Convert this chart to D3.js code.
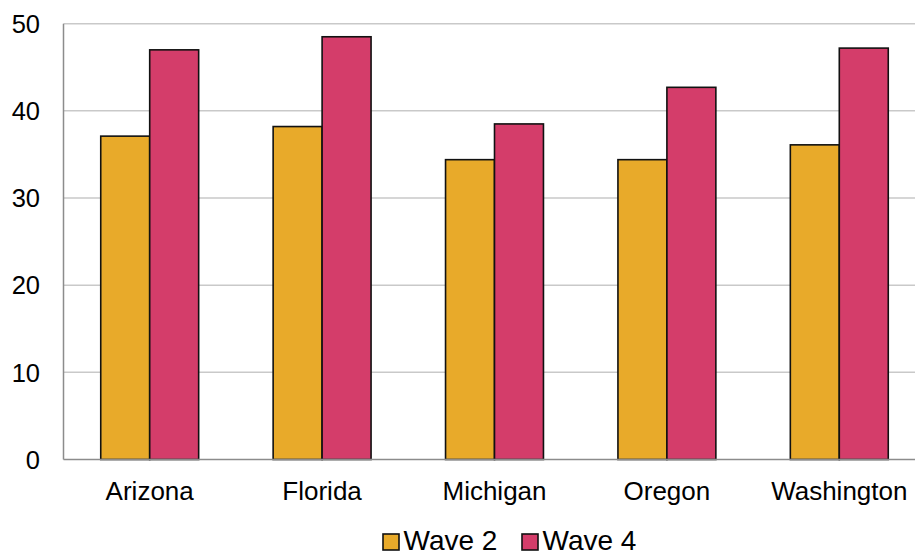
<!DOCTYPE html>
<html><head><meta charset="utf-8">
<script src="https://cdn.jsdelivr.net/npm/d3@7"></script>
<style>body{margin:0;background:#fff}svg{display:block}</style>
</head><body>
<svg id="c" width="915" height="554"></svg>
<script>
const categories = ["Arizona","Florida","Michigan","Oregon","Washington"];
const seriesNames = ["Wave 2","Wave 4"];
const wave2 = [37.1, 38.2, 34.4, 34.4, 36.1];
const wave4 = [47.0, 48.5, 38.5, 42.7, 47.2];
const yTicks = [0,10,20,30,40,50];
const colors = ["#E8AA2A","#D43D6A"];

(function(){
const svg = d3.select("#c");
const pL = 63.5, pR = 925.5, pT = 23.7, pB = 459.5;
const font = "Arial, 'Liberation Sans', sans-serif";

const x0 = d3.scaleBand().domain(categories).range([pL,pR]).paddingInner(0.432).paddingOuter(0.216);
const x1 = d3.scaleBand().domain(seriesNames).range([0,x0.bandwidth()]);
const y = d3.scaleLinear().domain([0,50]).range([pB,pT]);

svg.append("g").selectAll("line").data(yTicks.filter(d=>d>0)).join("line")
  .attr("x1",pL).attr("x2",pR).attr("y1",d=>y(d)).attr("y2",d=>y(d))
  .attr("stroke","#c9c9c9").attr("stroke-width",1.5);

svg.append("g").selectAll("text").data(yTicks).join("text")
  .attr("x",40).attr("y",d=>y(d)).attr("dy","0.36em").attr("text-anchor","end")
  .attr("font-family",font).attr("font-size",25.5).attr("fill","#000").text(d=>d);

const data = categories.map((c,i)=>({c, vals:[wave2[i],wave4[i]]}));
const g = svg.append("g").selectAll("g").data(data).join("g")
  .attr("transform",d=>`translate(${x0(d.c)},0)`);
g.selectAll("rect").data(d=>d.vals.map((v,j)=>({k:seriesNames[j],v,j}))).join("rect")
  .attr("x",d=>x1(d.k)).attr("width",x1.bandwidth())
  .attr("y",d=>y(d.v)).attr("height",d=>y(0)-y(d.v))
  .attr("fill",d=>colors[d.j]).attr("stroke","#111").attr("stroke-width",1.6);

svg.append("line").attr("x1",pL).attr("x2",pL).attr("y1",pT).attr("y2",pB)
  .attr("stroke","#8c8c8c").attr("stroke-width",1.5);
svg.append("line").attr("x1",pL).attr("x2",pR).attr("y1",pB).attr("y2",pB)
  .attr("stroke","#8c8c8c").attr("stroke-width",1.5);

svg.append("g").selectAll("text").data(categories).join("text")
  .attr("x",d=>x0(d)+x0.bandwidth()/2).attr("y",500).attr("text-anchor","middle")
  .attr("font-family",font).attr("font-size",26).attr("fill","#000").text(d=>d);

const leg = svg.append("g");
const legX = [383, 522];
seriesNames.forEach((s,i)=>{
  leg.append("rect").attr("x",legX[i]).attr("y",534).attr("width",16).attr("height",16)
    .attr("fill",colors[i]).attr("stroke","#111").attr("stroke-width",1.6);
  leg.append("text").attr("x",legX[i]+20.5).attr("y",549.5).attr("font-family",font)
    .attr("font-size",28).attr("fill","#000").text(s);
});
})();
</script>
</body></html>
